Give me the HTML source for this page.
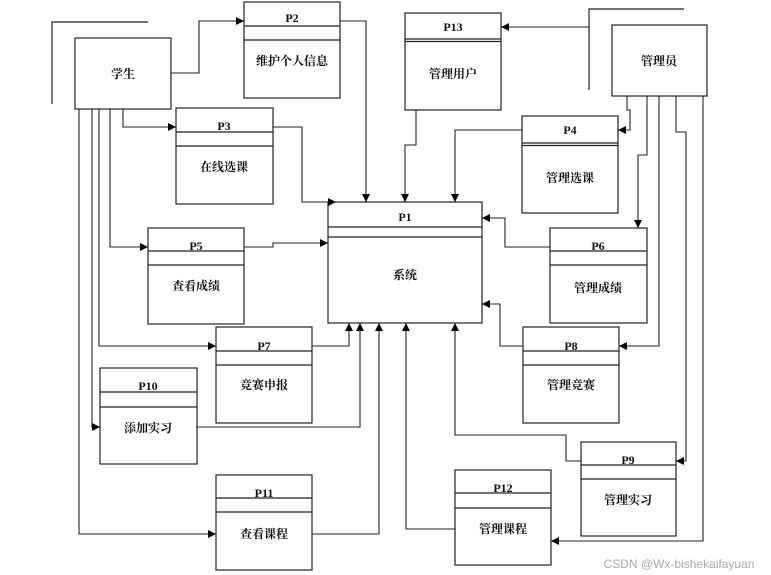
<!DOCTYPE html>
<html><head><meta charset="utf-8"><style>
html,body{margin:0;padding:0;background:#fff;}
svg{display:block}
text{font-family:"Liberation Serif","Noto Serif CJK SC","Noto Sans CJK SC",serif;font-weight:bold;font-size:12px;fill:#111;text-anchor:middle}
</style></head><body>
<svg width="771" height="575" viewBox="0 0 771 575" xmlns="http://www.w3.org/2000/svg">
<defs><marker id="a" markerWidth="8" markerHeight="8" refX="8" refY="4" orient="auto" markerUnits="userSpaceOnUse"><path d="M0,0 L8,4 L0,8 z" fill="#000"/></marker></defs>
<g fill="none" stroke="#222" stroke-width="1.2">
<!-- externals -->
<rect x="75" y="38" width="96" height="71"/>
<polyline points="148,22 52,22 52,104"/>
<rect x="612" y="25" width="95" height="71"/>
<polyline points="684,9 589,9 589,90"/>
<!-- P1 -->
<rect x="328" y="202" width="154" height="121"/><line x1="328" y1="227" x2="482" y2="227"/><line x1="328" y1="237" x2="482" y2="237"/>
<!-- P2 -->
<rect x="244" y="2" width="96" height="96"/><line x1="244" y1="26" x2="340" y2="26"/><line x1="244" y1="40" x2="340" y2="40"/>
<rect x="176" y="108" width="97" height="96"/><line x1="176" y1="132" x2="273" y2="132"/><line x1="176" y1="146" x2="273" y2="146"/>
<rect x="148" y="228" width="96" height="96"/><line x1="148" y1="251" x2="244" y2="251"/><line x1="148" y1="265" x2="244" y2="265"/>
<rect x="216" y="327" width="96" height="96"/><line x1="216" y1="351" x2="312" y2="351"/><line x1="216" y1="365" x2="312" y2="365"/>
<rect x="100" y="368" width="97" height="96"/><line x1="100" y1="392" x2="197" y2="392"/><line x1="100" y1="407" x2="197" y2="407"/>
<rect x="216" y="475" width="96" height="95"/><line x1="216" y1="498" x2="312" y2="498"/><line x1="216" y1="512" x2="312" y2="512"/>
<rect x="405" y="13" width="96" height="97"/><line x1="405" y1="39" x2="501" y2="39"/><line x1="405" y1="41.5" x2="501" y2="41.5"/>
<rect x="522" y="116" width="96" height="97"/><line x1="522" y1="143" x2="618" y2="143"/><line x1="522" y1="145.5" x2="618" y2="145.5"/>
<rect x="550" y="228" width="97" height="95"/><line x1="550" y1="251" x2="647" y2="251"/><line x1="550" y1="265" x2="647" y2="265"/>
<rect x="523" y="327" width="96" height="96"/><line x1="523" y1="351" x2="619" y2="351"/><line x1="523" y1="365" x2="619" y2="365"/>
<rect x="581" y="442" width="95" height="94"/><line x1="581" y1="465" x2="676" y2="465"/><line x1="581" y1="479" x2="676" y2="479"/>
<rect x="455" y="470" width="96" height="95"/><line x1="455" y1="493" x2="551" y2="493"/><line x1="455" y1="508" x2="551" y2="508"/>
</g>
<g fill="none" stroke="#222" stroke-width="1.1" marker-end="url(#a)">
<polyline points="171,73 199,73 199,21 244,21"/>
<polyline points="340,21 366,21 366,202"/>
<polyline points="123,109 123,127 176,127"/>
<polyline points="273,127 302,127 302,202 336,202"/>
<polyline points="110,109 110,247 148,247"/>
<polyline points="244,247 273,247 273,243 328,243"/>
<polyline points="99,109 99,346 216,346"/>
<polyline points="312,346 349,346 349,323"/>
<polyline points="92,109 92,427 100,427"/>
<polyline points="197,427 360,427 360,323"/>
<polyline points="79,109 79,534 216,534"/>
<polyline points="312,534 379,534 379,323"/>
<polyline points="589,27 501,27"/>
<polyline points="416,110 416,145 405,145 405,202"/>
<polyline points="522,130 455,130 455,202"/>
<polyline points="627,96 627,110 630,110 630,130 618,130"/>
<polyline points="647,96 647,155 638,155 638,228"/>
<polyline points="550,247 505,247 505,218 482,218"/>
<polyline points="659,96 659,346 619,346"/>
<polyline points="523,346 500,346 500,304 482,304"/>
<polyline points="676,96 676,132 686,132 686,461 676,461"/>
<polyline points="703,96 703,541 551,541"/>
<polyline points="581,461 566,461 566,435 455,435 455,323"/>
<polyline points="455,529 406,529 406,323"/>
</g>
<text x="123" y="78">学生</text>
<text x="659" y="65">管理员</text>
<text x="405" y="221">P1</text><text x="405" y="279">系统</text>
<text x="292" y="22">P2</text><text x="292" y="65">维护个人信息</text>
<text x="224" y="130">P3</text><text x="224" y="171">在线选课</text>
<text x="196" y="250">P5</text><text x="196" y="290">查看成绩</text>
<text x="264" y="350">P7</text><text x="264" y="389">竞赛申报</text>
<text x="148" y="390">P10</text><text x="148" y="432">添加实习</text>
<text x="264" y="497">P11</text><text x="264" y="538">查看课程</text>
<text x="453" y="31">P13</text><text x="453" y="78">管理用户</text>
<text x="570" y="134">P4</text><text x="570" y="182">管理选课</text>
<text x="598" y="250">P6</text><text x="598" y="292">管理成绩</text>
<text x="571" y="350">P8</text><text x="571" y="389">管理竞赛</text>
<text x="628" y="464">P9</text><text x="628" y="504">管理实习</text>
<text x="503" y="492">P12</text><text x="503" y="533">管理课程</text>
<text x="679" y="568" style="font-family:'Liberation Sans',sans-serif;font-weight:normal;font-size:12px;fill:#aaa">CSDN @Wx-bishekaifayuan</text>
</svg>
</body></html>
